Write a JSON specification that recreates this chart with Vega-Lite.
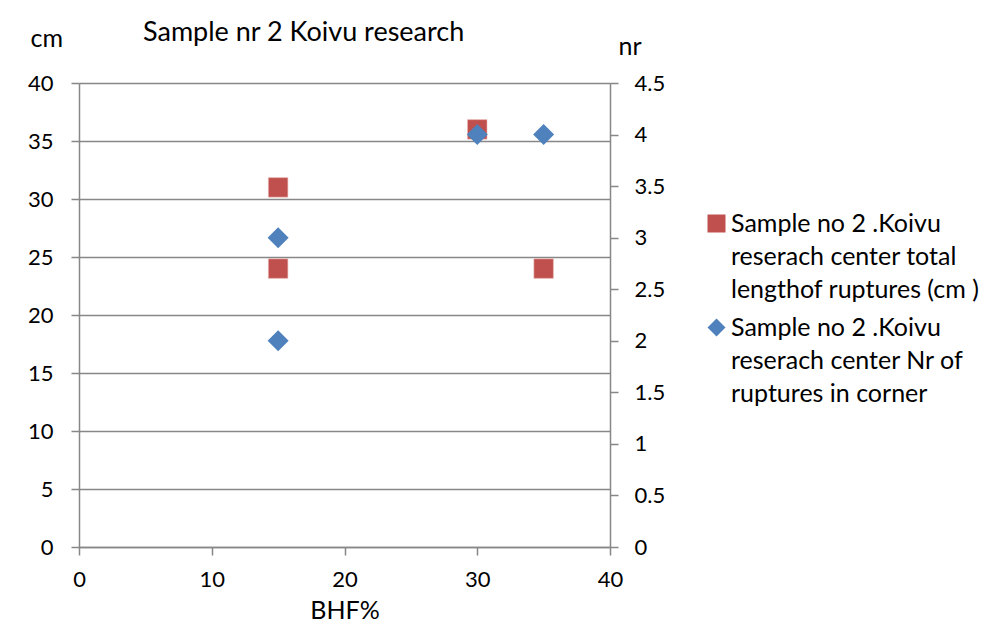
{
  "$schema": "https://vega.github.io/schema/vega-lite/v6.json",
  "width": 531,
  "height": 464,
  "autosize": {"type": "none"},
  "padding": {"left": 79, "top": 83, "right": 392, "bottom": 92},
  "background": "white",
  "title": {
    "text": "Sample nr 2 Koivu research",
    "anchor": "start",
    "frame": "group",
    "dx": 64,
    "dy": 42,
    "offset": 0,
    "baseline": "alphabetic",
    "font": "Lato",
    "fontSize": 27,
    "fontWeight": "normal",
    "color": "black"
  },
  "config": {
    "view": {"stroke": null},
    "axis": {
      "labelFont": "Lato",
      "labelFontSize": 22,
      "labelColor": "black",
      "labelFlush": false,
      "titleFont": "Lato",
      "titleFontSize": 25,
      "titleFontWeight": "normal",
      "titleColor": "black",
      "domainColor": "#878787",
      "domainWidth": 1.5,
      "tickColor": "#878787",
      "tickWidth": 1.5,
      "tickSize": 8,
      "gridColor": "#878787",
      "gridWidth": 1.5,
      "gridOpacity": 1
    },
    "legend": {
      "labelFont": "Lato",
      "labelFontSize": 25,
      "labelColor": "black"
    }
  },
  "layer": [
    {
      "data": {
        "values": [
          {"bhf": 15, "cm": 31, "series": "Sample no 2 .Koivu|reserach center  total|lengthof ruptures (cm )"},
          {"bhf": 15, "cm": 24, "series": "Sample no 2 .Koivu|reserach center  total|lengthof ruptures (cm )"},
          {"bhf": 30, "cm": 36, "series": "Sample no 2 .Koivu|reserach center  total|lengthof ruptures (cm )"},
          {"bhf": 35, "cm": 24, "series": "Sample no 2 .Koivu|reserach center  total|lengthof ruptures (cm )"}
        ]
      },
      "mark": {"type": "point", "filled": true, "opacity": 1, "size": 380, "stroke": "#E8B5B3", "strokeWidth": 1, "strokeOpacity": 0.6},
      "encoding": {
        "x": {
          "field": "bhf",
          "type": "quantitative",
          "scale": {"domain": [0, 40], "nice": false, "zero": true},
          "axis": {
            "title": "BHF%",
            "values": [0, 10, 20, 30, 40],
            "grid": false,
            "labelPadding": 14,
            "titlePadding": 8
          }
        },
        "y": {
          "field": "cm",
          "type": "quantitative",
          "scale": {"domain": [0, 40], "nice": false},
          "axis": {
            "orient": "left",
            "title": "cm",
            "values": [0, 5, 10, 15, 20, 25, 30, 35, 40],
            "grid": true,
            "labelPadding": 18,
            "titleAngle": 0,
            "titleAlign": "left",
            "titleBaseline": "alphabetic",
            "titleX": -49,
            "titleY": -37
          }
        },
        "color": {
          "field": "series",
          "type": "nominal",
          "scale": {
            "domain": [
              "Sample no 2 .Koivu|reserach center  total|lengthof ruptures (cm )",
              "Sample no 2 .Koivu|reserach center  Nr of|ruptures in corner"
            ],
            "range": ["#C0504D", "#4F81BD"]
          },
          "legend": {
            "title": null,
            "orient": "none",
            "legendX": 625,
            "legendY": 128,
            "padding": 0,
            "symbolSize": 324,
            "symbolStrokeWidth": 0,
            "labelOffset": 2,
            "labelLimit": 400,
            "labelBaseline": "top",
            "rowPadding": 12,
            "labelExpr": "split(datum.label, '|')",
            "encoding": {"labels": {"dy": {"value": -12}, "lineHeight": {"value": 33}}}
          }
        },
        "shape": {
          "field": "series",
          "type": "nominal",
          "scale": {
            "domain": [
              "Sample no 2 .Koivu|reserach center  total|lengthof ruptures (cm )",
              "Sample no 2 .Koivu|reserach center  Nr of|ruptures in corner"
            ],
            "range": ["square", "diamond"]
          }
        }
      }
    },
    {
      "data": {
        "values": [
          {"bhf": 15, "nr": 3, "series": "Sample no 2 .Koivu|reserach center  Nr of|ruptures in corner"},
          {"bhf": 15, "nr": 2, "series": "Sample no 2 .Koivu|reserach center  Nr of|ruptures in corner"},
          {"bhf": 30, "nr": 4, "series": "Sample no 2 .Koivu|reserach center  Nr of|ruptures in corner"},
          {"bhf": 35, "nr": 4, "series": "Sample no 2 .Koivu|reserach center  Nr of|ruptures in corner"}
        ]
      },
      "mark": {"type": "point", "filled": true, "opacity": 1, "size": 441},
      "encoding": {
        "x": {"field": "bhf", "type": "quantitative"},
        "y": {
          "field": "nr",
          "type": "quantitative",
          "scale": {"domain": [0, 4.5], "nice": false},
          "axis": {
            "orient": "right",
            "title": "nr",
            "values": [0, 0.5, 1, 1.5, 2, 2.5, 3, 3.5, 4, 4.5],
            "labelExpr": "datum.value + ''",
            "grid": false,
            "labelPadding": 16,
            "titleAngle": 0,
            "titleAlign": "left",
            "titleBaseline": "alphabetic",
            "titleX": 8,
            "titleY": -29
          }
        },
        "color": {
          "field": "series",
          "type": "nominal",
          "scale": {
            "domain": [
              "Sample no 2 .Koivu|reserach center  total|lengthof ruptures (cm )",
              "Sample no 2 .Koivu|reserach center  Nr of|ruptures in corner"
            ],
            "range": ["#C0504D", "#4F81BD"]
          }
        },
        "shape": {
          "field": "series",
          "type": "nominal",
          "scale": {
            "domain": [
              "Sample no 2 .Koivu|reserach center  total|lengthof ruptures (cm )",
              "Sample no 2 .Koivu|reserach center  Nr of|ruptures in corner"
            ],
            "range": ["square", "diamond"]
          }
        }
      }
    }
  ],
  "resolve": {"scale": {"y": "independent"}, "axis": {"y": "independent"}}
}
